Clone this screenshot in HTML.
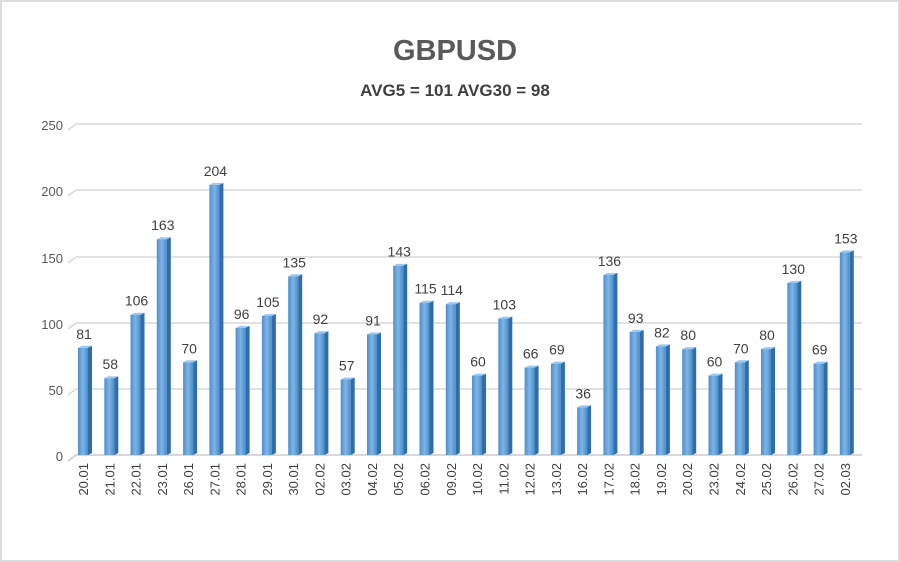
<!DOCTYPE html><html><head><style>body{margin:0}svg{display:block;font-family:"Liberation Sans",sans-serif}.b{fill:url(#f)}.s{fill:#2f6ea8}.t{fill:#9cc7ee}.v{font-size:14px;fill:#404040;text-anchor:middle}.l{font-size:13px;fill:#404040;text-anchor:end}</style></head><body>
<svg width="900" height="562" viewBox="0 0 900 562">
<defs><linearGradient id="f" x1="0" x2="1"><stop offset="0" stop-color="#4d8fcf"/><stop offset=".5" stop-color="#80b4e4"/><stop offset="1" stop-color="#4a8ccc"/></linearGradient></defs>
<rect x="1" y="1" width="898" height="560" fill="#fff" stroke="#dcdcdc" stroke-width="2"/>
<text x="455" y="60" text-anchor="middle" font-size="29" font-weight="bold" fill="#595959">GBPUSD</text>
<text x="455" y="96" text-anchor="middle" font-size="17" font-weight="bold" fill="#404040">AVG5 = 101 AVG30 = 98</text>
<g stroke="#d9d9d9" stroke-width="1.5" fill="none">
<path d="M68,130 L76,124 H862"/><path d="M68,196 L76,190 H862"/><path d="M68,263 L76,257 H862"/><path d="M68,329 L76,323 H862"/><path d="M68,395 L76,389 H862"/><path d="M68,461 L76,455 H862" stroke="#ccc"/>
</g>
<g font-size="13" fill="#595959" text-anchor="end">
<text x="63" y="130">250</text><text x="63" y="196">200</text><text x="63" y="263">150</text><text x="63" y="329">100</text><text x="63" y="395">50</text><text x="63" y="461">0</text>
</g>
<g transform="translate(84,347.8)"><rect class="b" x="-6" y="0" width="10" height="107.2"/><path class="s" d="M4,0 L8,-2 V105.2 L4,107.2Z"/><path class="t" d="M-6,0 L-2,-2 H8 L4,0Z"/><text class="v" y="-9">81</text></g>
<g transform="translate(110.3,378.2)"><rect class="b" x="-6" y="0" width="10" height="76.8"/><path class="s" d="M4,0 L8,-2 V74.8 L4,76.8Z"/><path class="t" d="M-6,0 L-2,-2 H8 L4,0Z"/><text class="v" y="-9">58</text></g>
<g transform="translate(136.5,314.7)"><rect class="b" x="-6" y="0" width="10" height="140.3"/><path class="s" d="M4,0 L8,-2 V138.3 L4,140.3Z"/><path class="t" d="M-6,0 L-2,-2 H8 L4,0Z"/><text class="v" y="-9">106</text></g>
<g transform="translate(162.8,239.2)"><rect class="b" x="-6" y="0" width="10" height="215.8"/><path class="s" d="M4,0 L8,-2 V213.8 L4,215.8Z"/><path class="t" d="M-6,0 L-2,-2 H8 L4,0Z"/><text class="v" y="-9">163</text></g>
<g transform="translate(189.1,362.3)"><rect class="b" x="-6" y="0" width="10" height="92.7"/><path class="s" d="M4,0 L8,-2 V90.7 L4,92.7Z"/><path class="t" d="M-6,0 L-2,-2 H8 L4,0Z"/><text class="v" y="-9">70</text></g>
<g transform="translate(215.4,184.9)"><rect class="b" x="-6" y="0" width="10" height="270.1"/><path class="s" d="M4,0 L8,-2 V268.1 L4,270.1Z"/><path class="t" d="M-6,0 L-2,-2 H8 L4,0Z"/><text class="v" y="-9">204</text></g>
<g transform="translate(241.6,327.9)"><rect class="b" x="-6" y="0" width="10" height="127.1"/><path class="s" d="M4,0 L8,-2 V125.1 L4,127.1Z"/><path class="t" d="M-6,0 L-2,-2 H8 L4,0Z"/><text class="v" y="-9">96</text></g>
<g transform="translate(267.9,316)"><rect class="b" x="-6" y="0" width="10" height="139"/><path class="s" d="M4,0 L8,-2 V137 L4,139Z"/><path class="t" d="M-6,0 L-2,-2 H8 L4,0Z"/><text class="v" y="-9">105</text></g>
<g transform="translate(294.2,276.3)"><rect class="b" x="-6" y="0" width="10" height="178.7"/><path class="s" d="M4,0 L8,-2 V176.7 L4,178.7Z"/><path class="t" d="M-6,0 L-2,-2 H8 L4,0Z"/><text class="v" y="-9">135</text></g>
<g transform="translate(320.4,333.2)"><rect class="b" x="-6" y="0" width="10" height="121.8"/><path class="s" d="M4,0 L8,-2 V119.8 L4,121.8Z"/><path class="t" d="M-6,0 L-2,-2 H8 L4,0Z"/><text class="v" y="-9">92</text></g>
<g transform="translate(346.7,379.5)"><rect class="b" x="-6" y="0" width="10" height="75.5"/><path class="s" d="M4,0 L8,-2 V73.5 L4,75.5Z"/><path class="t" d="M-6,0 L-2,-2 H8 L4,0Z"/><text class="v" y="-9">57</text></g>
<g transform="translate(373,334.5)"><rect class="b" x="-6" y="0" width="10" height="120.5"/><path class="s" d="M4,0 L8,-2 V118.5 L4,120.5Z"/><path class="t" d="M-6,0 L-2,-2 H8 L4,0Z"/><text class="v" y="-9">91</text></g>
<g transform="translate(399.2,265.7)"><rect class="b" x="-6" y="0" width="10" height="189.3"/><path class="s" d="M4,0 L8,-2 V187.3 L4,189.3Z"/><path class="t" d="M-6,0 L-2,-2 H8 L4,0Z"/><text class="v" y="-9">143</text></g>
<g transform="translate(425.5,302.7)"><rect class="b" x="-6" y="0" width="10" height="152.3"/><path class="s" d="M4,0 L8,-2 V150.3 L4,152.3Z"/><path class="t" d="M-6,0 L-2,-2 H8 L4,0Z"/><text class="v" y="-9">115</text></g>
<g transform="translate(451.8,304.1)"><rect class="b" x="-6" y="0" width="10" height="150.9"/><path class="s" d="M4,0 L8,-2 V148.9 L4,150.9Z"/><path class="t" d="M-6,0 L-2,-2 H8 L4,0Z"/><text class="v" y="-9">114</text></g>
<g transform="translate(478,375.6)"><rect class="b" x="-6" y="0" width="10" height="79.4"/><path class="s" d="M4,0 L8,-2 V77.4 L4,79.4Z"/><path class="t" d="M-6,0 L-2,-2 H8 L4,0Z"/><text class="v" y="-9">60</text></g>
<g transform="translate(504.3,318.6)"><rect class="b" x="-6" y="0" width="10" height="136.4"/><path class="s" d="M4,0 L8,-2 V134.4 L4,136.4Z"/><path class="t" d="M-6,0 L-2,-2 H8 L4,0Z"/><text class="v" y="-9">103</text></g>
<g transform="translate(530.6,367.6)"><rect class="b" x="-6" y="0" width="10" height="87.4"/><path class="s" d="M4,0 L8,-2 V85.4 L4,87.4Z"/><path class="t" d="M-6,0 L-2,-2 H8 L4,0Z"/><text class="v" y="-9">66</text></g>
<g transform="translate(556.9,363.6)"><rect class="b" x="-6" y="0" width="10" height="91.4"/><path class="s" d="M4,0 L8,-2 V89.4 L4,91.4Z"/><path class="t" d="M-6,0 L-2,-2 H8 L4,0Z"/><text class="v" y="-9">69</text></g>
<g transform="translate(583.1,407.3)"><rect class="b" x="-6" y="0" width="10" height="47.7"/><path class="s" d="M4,0 L8,-2 V45.7 L4,47.7Z"/><path class="t" d="M-6,0 L-2,-2 H8 L4,0Z"/><text class="v" y="-9">36</text></g>
<g transform="translate(609.4,274.9)"><rect class="b" x="-6" y="0" width="10" height="180.1"/><path class="s" d="M4,0 L8,-2 V178.1 L4,180.1Z"/><path class="t" d="M-6,0 L-2,-2 H8 L4,0Z"/><text class="v" y="-9">136</text></g>
<g transform="translate(635.7,331.9)"><rect class="b" x="-6" y="0" width="10" height="123.1"/><path class="s" d="M4,0 L8,-2 V121.1 L4,123.1Z"/><path class="t" d="M-6,0 L-2,-2 H8 L4,0Z"/><text class="v" y="-9">93</text></g>
<g transform="translate(661.9,346.4)"><rect class="b" x="-6" y="0" width="10" height="108.6"/><path class="s" d="M4,0 L8,-2 V106.6 L4,108.6Z"/><path class="t" d="M-6,0 L-2,-2 H8 L4,0Z"/><text class="v" y="-9">82</text></g>
<g transform="translate(688.2,349.1)"><rect class="b" x="-6" y="0" width="10" height="105.9"/><path class="s" d="M4,0 L8,-2 V103.9 L4,105.9Z"/><path class="t" d="M-6,0 L-2,-2 H8 L4,0Z"/><text class="v" y="-9">80</text></g>
<g transform="translate(714.5,375.6)"><rect class="b" x="-6" y="0" width="10" height="79.4"/><path class="s" d="M4,0 L8,-2 V77.4 L4,79.4Z"/><path class="t" d="M-6,0 L-2,-2 H8 L4,0Z"/><text class="v" y="-9">60</text></g>
<g transform="translate(740.8,362.3)"><rect class="b" x="-6" y="0" width="10" height="92.7"/><path class="s" d="M4,0 L8,-2 V90.7 L4,92.7Z"/><path class="t" d="M-6,0 L-2,-2 H8 L4,0Z"/><text class="v" y="-9">70</text></g>
<g transform="translate(767,349.1)"><rect class="b" x="-6" y="0" width="10" height="105.9"/><path class="s" d="M4,0 L8,-2 V103.9 L4,105.9Z"/><path class="t" d="M-6,0 L-2,-2 H8 L4,0Z"/><text class="v" y="-9">80</text></g>
<g transform="translate(793.3,282.9)"><rect class="b" x="-6" y="0" width="10" height="172.1"/><path class="s" d="M4,0 L8,-2 V170.1 L4,172.1Z"/><path class="t" d="M-6,0 L-2,-2 H8 L4,0Z"/><text class="v" y="-9">130</text></g>
<g transform="translate(819.6,363.6)"><rect class="b" x="-6" y="0" width="10" height="91.4"/><path class="s" d="M4,0 L8,-2 V89.4 L4,91.4Z"/><path class="t" d="M-6,0 L-2,-2 H8 L4,0Z"/><text class="v" y="-9">69</text></g>
<g transform="translate(845.8,252.4)"><rect class="b" x="-6" y="0" width="10" height="202.6"/><path class="s" d="M4,0 L8,-2 V200.6 L4,202.6Z"/><path class="t" d="M-6,0 L-2,-2 H8 L4,0Z"/><text class="v" y="-9">153</text></g>
<g>
<text class="l" transform="translate(88,463) rotate(-90)">20.01</text>
<text class="l" transform="translate(114.3,463) rotate(-90)">21.01</text>
<text class="l" transform="translate(140.5,463) rotate(-90)">22.01</text>
<text class="l" transform="translate(166.8,463) rotate(-90)">23.01</text>
<text class="l" transform="translate(193.1,463) rotate(-90)">26.01</text>
<text class="l" transform="translate(219.4,463) rotate(-90)">27.01</text>
<text class="l" transform="translate(245.6,463) rotate(-90)">28.01</text>
<text class="l" transform="translate(271.9,463) rotate(-90)">29.01</text>
<text class="l" transform="translate(298.2,463) rotate(-90)">30.01</text>
<text class="l" transform="translate(324.4,463) rotate(-90)">02.02</text>
<text class="l" transform="translate(350.7,463) rotate(-90)">03.02</text>
<text class="l" transform="translate(377,463) rotate(-90)">04.02</text>
<text class="l" transform="translate(403.2,463) rotate(-90)">05.02</text>
<text class="l" transform="translate(429.5,463) rotate(-90)">06.02</text>
<text class="l" transform="translate(455.8,463) rotate(-90)">09.02</text>
<text class="l" transform="translate(482,463) rotate(-90)">10.02</text>
<text class="l" transform="translate(508.3,463) rotate(-90)">11.02</text>
<text class="l" transform="translate(534.6,463) rotate(-90)">12.02</text>
<text class="l" transform="translate(560.9,463) rotate(-90)">13.02</text>
<text class="l" transform="translate(587.1,463) rotate(-90)">16.02</text>
<text class="l" transform="translate(613.4,463) rotate(-90)">17.02</text>
<text class="l" transform="translate(639.7,463) rotate(-90)">18.02</text>
<text class="l" transform="translate(665.9,463) rotate(-90)">19.02</text>
<text class="l" transform="translate(692.2,463) rotate(-90)">20.02</text>
<text class="l" transform="translate(718.5,463) rotate(-90)">23.02</text>
<text class="l" transform="translate(744.8,463) rotate(-90)">24.02</text>
<text class="l" transform="translate(771,463) rotate(-90)">25.02</text>
<text class="l" transform="translate(797.3,463) rotate(-90)">26.02</text>
<text class="l" transform="translate(823.6,463) rotate(-90)">27.02</text>
<text class="l" transform="translate(849.8,463) rotate(-90)">02.03</text>
</g>
</svg>
</body></html>
